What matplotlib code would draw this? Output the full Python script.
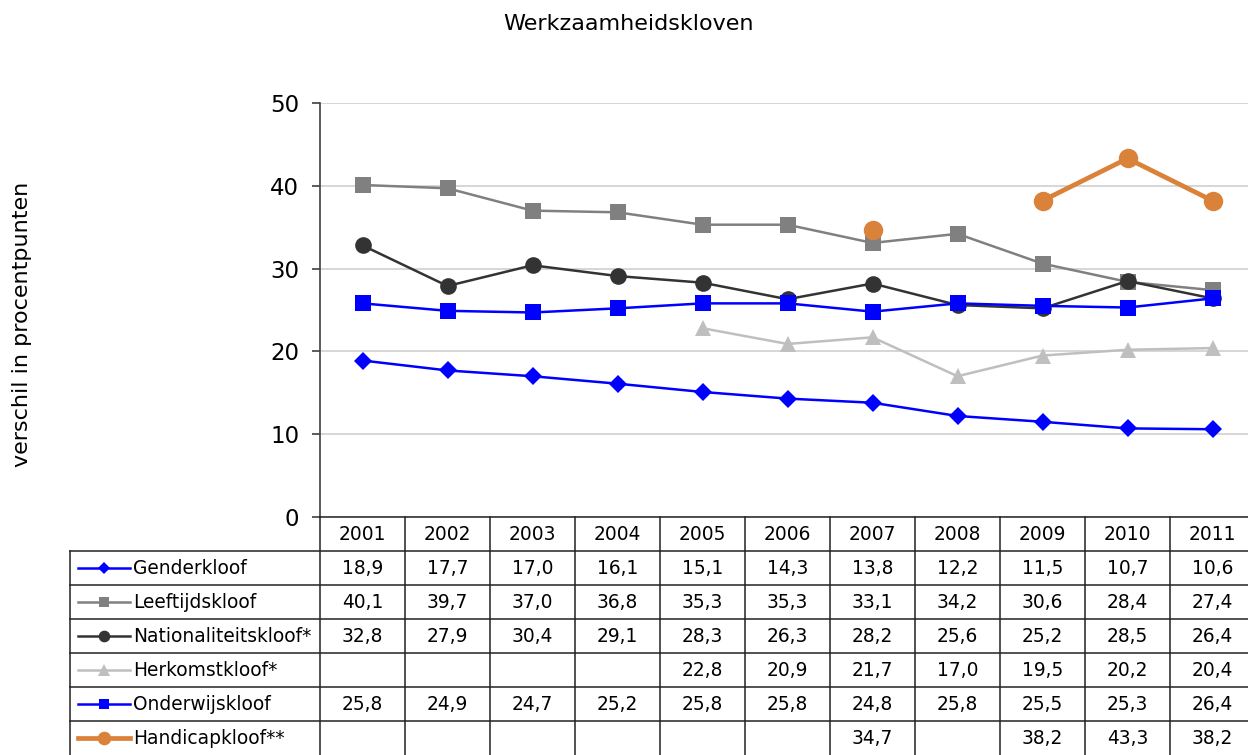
import numpy as np
import matplotlib
matplotlib.use("Agg")
import matplotlib.pyplot as plt

years = ["2001", "2002", "2003", "2004", "2005", "2006", "2007", "2008", "2009", "2010", "2011"]
nan = np.nan
gender = [18.9, 17.7, 17.0, 16.1, 15.1, 14.3, 13.8, 12.2, 11.5, 10.7, 10.6]
leeftijd = [40.1, 39.7, 37.0, 36.8, 35.3, 35.3, 33.1, 34.2, 30.6, 28.4, 27.4]
nationaliteit = [32.8, 27.9, 30.4, 29.1, 28.3, 26.3, 28.2, 25.6, 25.2, 28.5, 26.4]
herkomst = [nan, nan, nan, nan, 22.8, 20.9, 21.7, 17.0, 19.5, 20.2, 20.4]
onderwijs = [25.8, 24.9, 24.7, 25.2, 25.8, 25.8, 24.8, 25.8, 25.5, 25.3, 26.4]
handicap = [nan, nan, nan, nan, nan, nan, 34.7, nan, 38.2, 43.3, 38.2]

series_names = ["Genderkloof", "Leeftijdskloof", "Nationaliteitskloof*", "Herkomstkloof*",
                "Onderwijskloof", "Handicapkloof**"]
series_values = [gender, leeftijd, nationaliteit, herkomst, onderwijs, handicap]
styles = [
    dict(color="#0000FF", marker="D", markersize=9, lw=1.8),
    dict(color="#808080", marker="s", markersize=11, lw=1.8),
    dict(color="#333333", marker="o", markersize=12, lw=1.8),
    dict(color="#BFBFBF", marker="^", markersize=12, lw=1.8),
    dict(color="#0000FF", marker="s", markersize=11, lw=1.8),
    dict(color="#DA823A", marker="o", markersize=14, lw=3.4),
]
title = "Werkzaamheidskloven"
ylabel = "verschil in procentpunten"

plt.rcParams["font.family"] = ["DejaVu Sans"]

W, H = 1248, 755
fig = plt.figure(figsize=(W / 100, H / 100), dpi=100)

colw = 85.0
x0 = 320.0
xr = -0.5 + (W - x0) / colw

ax = fig.add_axes([x0 / W, 1 - 517 / H, (W - x0) / W, (517 - 103) / H])
x = np.arange(len(years))
order = [1, 2, 3, 4, 0, 5]
for i in order:
    st = styles[i]
    ax.plot(x, series_values[i], color=st["color"], marker=st["marker"],
            markersize=st["markersize"], lw=st["lw"], markeredgewidth=0, zorder=3 + i)
ax.set_ylim(0, 50)
ax.set_xlim(-0.5, xr)
ax.set_yticks([0, 10, 20, 30, 40, 50])
ax.yaxis.grid(True, color="#CFCFCF", lw=1.2)
ax.set_axisbelow(True)
ax.set_xticks([])
for s in ["top", "right", "bottom"]:
    ax.spines[s].set_visible(False)
ax.spines["left"].set_color("#404040")
ax.spines["left"].set_linewidth(1.2)
ax.tick_params(axis="y", length=6, width=1.2, color="#404040", labelsize=16.5, pad=9)

fig.text(629 / W, 1 - 24 / H, title, ha="center", va="center", fontsize=16)
fig.text(22 / W, 1 - 324 / H, ylabel, ha="center", va="center", rotation=90, fontsize=16)

# data table
tx0 = 70.0
tax = fig.add_axes([tx0 / W, 0, (W - tx0) / W, (755 - 517) / H])
tax.set_xlim(-0.5 - (x0 - tx0) / colw, xr)
tax.set_ylim(7, 0)
tax.axis("off")
left = -0.5 - (x0 - tx0) / colw
lc = "#222222"
tax.plot([-0.5, xr], [0, 0], color=lc, lw=1.1, clip_on=False)
for r in range(1, 7):
    tax.plot([left, xr], [r, r], color=lc, lw=1.1, clip_on=False)
for k in range(len(years)):
    tax.plot([k - 0.5, k - 0.5], [0, 7], color=lc, lw=1.1, clip_on=False)
tax.plot([left, left], [1, 7], color=lc, lw=1.1, clip_on=False)

fs = 13.4
for k, yr in enumerate(years):
    tax.text(k, 0.52, yr, ha="center", va="center", fontsize=fs)
for i, (name, vals) in enumerate(zip(series_names, series_values)):
    yc = i + 1.5
    st = styles[i]
    sx0 = left + 8 / colw
    sx1 = left + 60 / colw
    tax.plot([sx0, sx1], [yc, yc], color=st["color"], lw=st["lw"], clip_on=False)
    tax.plot([(sx0 + sx1) / 2], [yc], color=st["color"], marker=st["marker"],
             markersize=st["markersize"] * 0.7, markeredgewidth=0, clip_on=False)
    tax.text(left + 63 / colw, yc, name, ha="left", va="center", fontsize=fs)
    for k, v in enumerate(vals):
        if not np.isnan(v):
            tax.text(k, yc, f"{v:.1f}".replace(".", ","), ha="center", va="center", fontsize=fs)

fig.savefig("out.png", dpi=100)
